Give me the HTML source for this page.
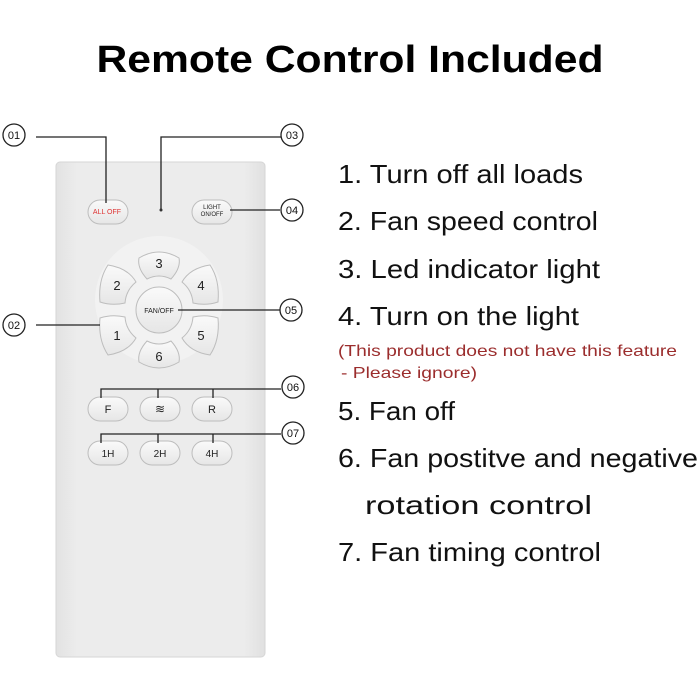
<!DOCTYPE html>
<html><head><style>body{margin:0;background:#fff}svg{display:block}</style></head><body>
<svg width="700" height="700" viewBox="0 0 700 700" xmlns="http://www.w3.org/2000/svg" font-family="Liberation Sans, sans-serif">
<defs>
<linearGradient id="bd" x1="0" x2="1"><stop offset="0" stop-color="#e2e2e2"/><stop offset="0.1" stop-color="#ececec"/><stop offset="0.9" stop-color="#ececec"/><stop offset="1" stop-color="#e0e0e0"/></linearGradient>
<linearGradient id="bt" x1="0" y1="0" x2="0" y2="1"><stop offset="0" stop-color="#fafafa"/><stop offset="1" stop-color="#e6e6e6"/></linearGradient>
</defs>
<text x="350" y="72" text-anchor="middle" font-size="38" font-weight="bold" textLength="507" lengthAdjust="spacingAndGlyphs">Remote Control Included</text>
<rect x="56" y="162" width="209" height="495" rx="4" fill="url(#bd)" stroke="#d6d6d6"/>
<circle cx="159" cy="300" r="64" fill="#f2f2f2"/>
<g fill="url(#bt)" stroke="#bdbdbd" stroke-width="1">
<rect x="88" y="200" width="40" height="24" rx="12"/>
<rect x="192" y="200" width="40" height="24" rx="12"/>
<path d="M139 258 Q159 246 179 258 Q181 268 171 279 Q159 273 147 279 Q137 268 139 258Z"/>
<path d="M139 362 Q159 374 179 362 Q181 352 171 341 Q159 347 147 341 Q137 352 139 362Z"/>
<path d="M108 265 Q98 280 100 302 Q112 306 125 303 Q126 290 136 282 Q128 268 108 265Z"/>
<path d="M210 265 Q220 280 218 302 Q206 306 193 303 Q192 290 182 282 Q190 268 210 265Z"/>
<path d="M108 355 Q98 340 100 318 Q112 314 125 317 Q126 330 136 338 Q128 352 108 355Z"/>
<path d="M210 355 Q220 340 218 318 Q206 314 193 317 Q192 330 182 338 Q190 352 210 355Z"/>
<circle cx="159" cy="310" r="23"/>
<rect x="88" y="397" width="40" height="24" rx="12"/><rect x="140" y="397" width="40" height="24" rx="12"/><rect x="192" y="397" width="40" height="24" rx="12"/>
<rect x="88" y="441" width="40" height="24" rx="12"/><rect x="140" y="441" width="40" height="24" rx="12"/><rect x="192" y="441" width="40" height="24" rx="12"/>
</g>
<g font-size="13" fill="#222" text-anchor="middle">
<text x="159" y="268">3</text><text x="117" y="290">2</text><text x="201" y="290">4</text>
<text x="117" y="340">1</text><text x="201" y="340">5</text><text x="159" y="361">6</text>
<text x="108" y="413" font-size="11">F</text><text x="212" y="413" font-size="11">R</text>
<text x="108" y="457" font-size="10">1H</text><text x="160" y="457" font-size="10">2H</text><text x="212" y="457" font-size="10">4H</text>
<text x="159" y="313" font-size="7">FAN/OFF</text>
<text x="212" y="209" font-size="6">LIGHT</text><text x="212" y="216" font-size="6">ON/OFF</text>
<text x="107" y="214" font-size="7" fill="#d33" style="fill:#d33">ALL  OFF</text>
<text x="160" y="413" font-size="12">≋</text>
</g>
<circle cx="161" cy="210" r="1.5" fill="#333"/>
<g stroke="#222" stroke-width="1.3" fill="none">
<polyline points="36,137 106,137 106,203"/>
<polyline points="281,137 161,137 161,209"/>
<line x1="230" y1="210" x2="280" y2="210"/>
<line x1="178" y1="310" x2="280" y2="310"/>
<line x1="36" y1="325" x2="100" y2="325"/>
<polyline points="101,398 101,389 281,389"/><line x1="158" y1="389" x2="158" y2="398"/><line x1="213" y1="389" x2="213" y2="398"/>
<polyline points="101,443 101,434 281,434"/><line x1="158" y1="434" x2="158" y2="443"/><line x1="213" y1="434" x2="213" y2="443"/>
<circle cx="14" cy="135" r="11"/><circle cx="14" cy="325" r="11"/>
<circle cx="292" cy="135" r="11"/><circle cx="292" cy="210" r="11"/><circle cx="291" cy="310" r="11"/>
<circle cx="293" cy="387" r="11"/><circle cx="293" cy="433" r="11"/>
</g>
<g font-size="11" text-anchor="middle" fill="#111">
<text x="14" y="139">01</text><text x="14" y="329">02</text><text x="292" y="139">03</text><text x="292" y="214">04</text>
<text x="291" y="314">05</text><text x="293" y="391">06</text><text x="293" y="437">07</text>
</g>
<g font-size="26" fill="#111">
<text x="338" y="183" textLength="245" lengthAdjust="spacingAndGlyphs">1. Turn off all loads</text>
<text x="338" y="230" textLength="260" lengthAdjust="spacingAndGlyphs">2. Fan speed control</text>
<text x="338" y="278" textLength="262" lengthAdjust="spacingAndGlyphs">3. Led indicator light</text>
<text x="338" y="325" textLength="241" lengthAdjust="spacingAndGlyphs">4. Turn on the light</text>
<text x="338" y="420" textLength="117" lengthAdjust="spacingAndGlyphs">5. Fan off</text>
<text x="338" y="467" textLength="360" lengthAdjust="spacingAndGlyphs">6. Fan postitve and negative</text>
<text x="365" y="514" textLength="227" lengthAdjust="spacingAndGlyphs">rotation control</text>
<text x="338" y="561" textLength="263" lengthAdjust="spacingAndGlyphs">7. Fan timing control</text>
</g>
<g font-size="16" fill="#9b2d2d">
<text x="338" y="356" textLength="339" lengthAdjust="spacingAndGlyphs">(This product does not have this feature</text>
<text x="341" y="378" textLength="136" lengthAdjust="spacingAndGlyphs">- Please ignore)</text>
</g>
</svg>
</body></html>
